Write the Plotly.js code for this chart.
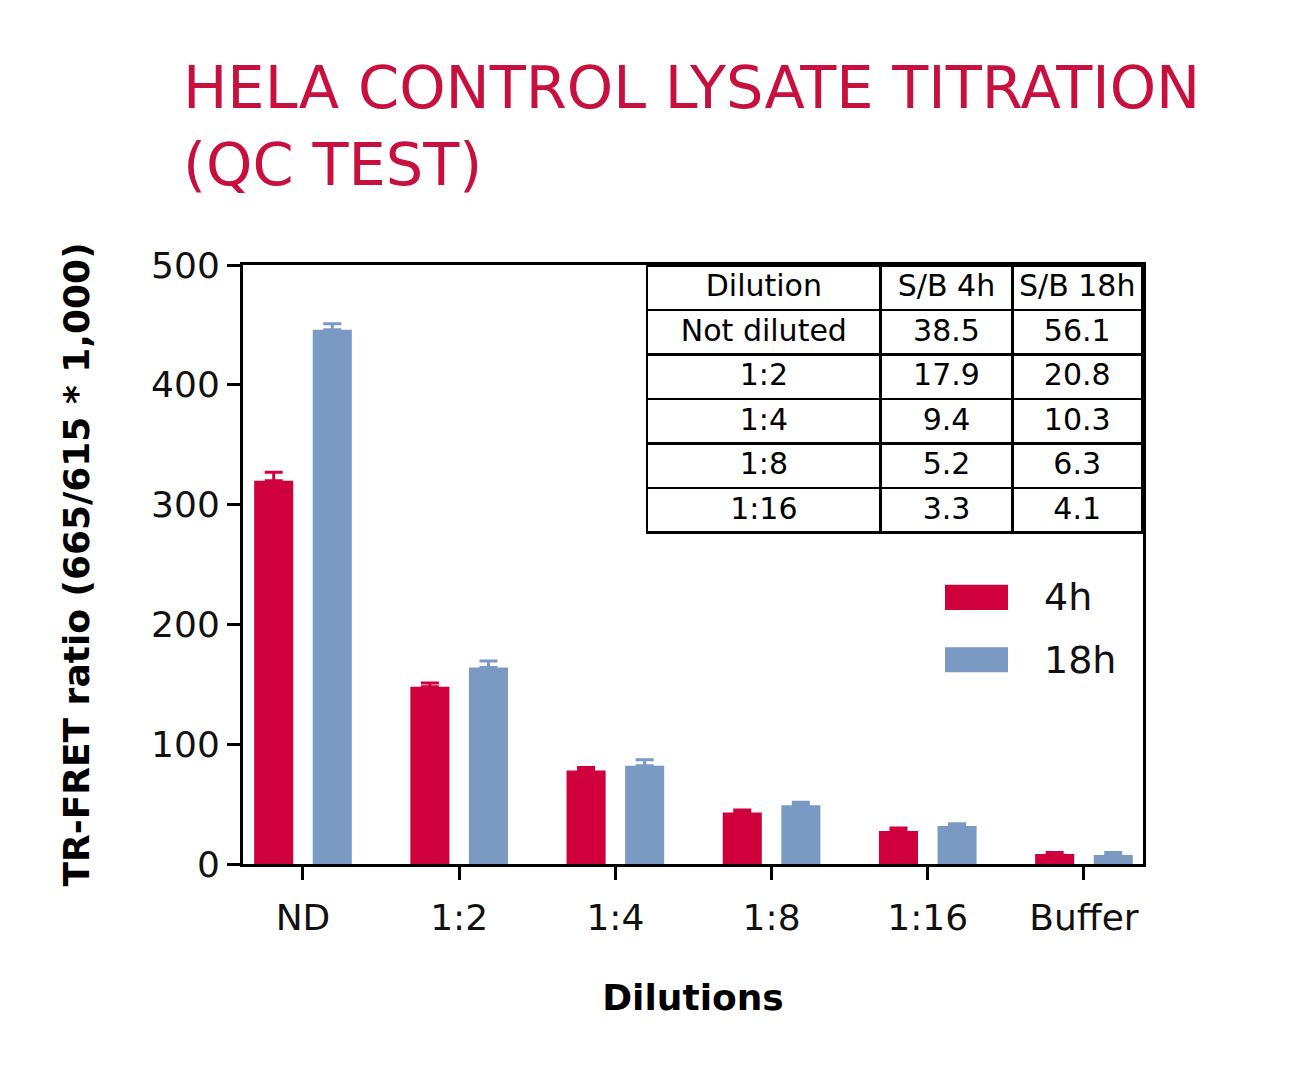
<!DOCTYPE html>
<html>
<head>
<meta charset="utf-8">
<script src="https://cdn.plot.ly/plotly-3.0.1.min.js"></script>
<style>html,body{margin:0;padding:0;background:#fff;}</style>
</head>
<body>
<div id="chart" style="width:1298px;height:1065px;"></div>
<script>
// ---- data ----
const categories = ['ND', '1:2', '1:4', '1:8', '1:16', 'Buffer'];
const seriesNames = ['4h', '18h'];
const values4h = [320, 148, 78, 43, 27.5, 8.3];
const errors4h = [7, 3, 2.5, 2, 2.5, 1.2];
const values18h = [446, 164, 82, 49, 31.7, 7.5];
const errors18h = [5, 5.5, 5, 2.5, 2, 2.2];
const tableHeader = ['Dilution', 'S/B 4h', 'S/B 18h'];
const tableDilution = ['Not diluted', '1:2', '1:4', '1:8', '1:16'];
const tableSB4h = ['38.5', '17.9', '9.4', '5.2', '3.3'];
const tableSB18h = ['56.1', '20.8', '10.3', '6.3', '4.1'];

const RED = '#CF003B';
const BLUE = '#7A9AC4';
const FONT = 'DejaVu Sans, sans-serif';
const nb = s => s.replace(/ /g, '\u00a0');

const traces = [
  {
    type: 'bar', name: seriesNames[0], x: categories, y: values4h,
    marker: {color: RED},
    error_y: {type: 'data', array: errors4h, arrayminus: errors4h.map(() => 0), symmetric: false,
              color: RED, thickness: 3, width: 9},
    showlegend: false
  },
  {
    type: 'bar', name: seriesNames[1], x: categories, y: values18h,
    marker: {color: BLUE},
    error_y: {type: 'data', array: errors18h, arrayminus: errors18h.map(() => 0), symmetric: false,
              color: BLUE, thickness: 3, width: 9},
    showlegend: false
  },
  {
    type: 'table',
    domain: {x: [0.449, 1.0], y: [0.54, 0.999]},
    columnwidth: [234, 132, 130],
    header: {
      values: tableHeader.map(nb),
      align: 'center',
      height: 44.5,
      line: {color: '#000', width: 2.5},
      fill: {color: '#fff'},
      font: {family: FONT, size: 30, color: '#000'}
    },
    cells: {
      values: [tableDilution.map(nb), tableSB4h, tableSB18h],
      align: 'center',
      height: 44.5,
      line: {color: '#000', width: 2.5},
      fill: {color: '#fff'},
      font: {family: FONT, size: 30, color: '#000'}
    }
  }
];

const legendY = [0.445, 0.341];
const legendColors = [RED, BLUE];
const shapes = [];
const annotations = [];
seriesNames.forEach((n, i) => {
  shapes.push({type: 'rect', xref: 'paper', yref: 'paper',
    x0: 0.78, x1: 0.85, y0: legendY[i] - 0.021, y1: legendY[i] + 0.021,
    fillcolor: legendColors[i], line: {width: 0}});
  annotations.push({xref: 'paper', yref: 'paper', x: 0.888, y: legendY[i],
    xanchor: 'left', yanchor: 'middle', text: n, showarrow: false,
    font: {family: FONT, size: 38, color: '#111'}});
});

const layout = {
  width: 1298, height: 1065,
  margin: {l: 243, r: 155, t: 265, b: 201},
  paper_bgcolor: '#fff', plot_bgcolor: '#fff',
  title: {
    text: 'HELA CONTROL LYSATE TITRATION<br>(QC TEST)',
    font: {family: FONT, size: 59, color: '#C8103E'},
    xref: 'container', x: 183 / 1298, xanchor: 'left',
    yref: 'container', y: 1 - 108 / 1065, yanchor: 'top'
  },
  barmode: 'group', bargap: 0.25, bargroupgap: 0.333,
  xaxis: {
    type: 'category', range: [-0.384, 5.378],
    showline: true, linecolor: '#000', linewidth: 3, mirror: true,
    ticks: 'outside', ticklen: 13, tickwidth: 3, tickcolor: '#000',
    tickfont: {family: FONT, size: 36, color: '#111'},
    ticklabelstandoff: 7,
    showgrid: false, zeroline: false,
    title: {text: 'Dilutions', standoff: 48, font: {family: FONT, size: 36, color: '#000', weight: 'bold'}}
  },
  yaxis: {
    range: [0, 500], tickvals: [0, 100, 200, 300, 400, 500],
    showline: true, linecolor: '#000', linewidth: 3, mirror: true,
    ticks: 'outside', ticklen: 13, tickwidth: 3, tickcolor: '#000',
    tickfont: {family: FONT, size: 36, color: '#111'},
    showgrid: false, zeroline: false,
    title: {text: 'TR-FRET ratio (665/615 * 1,000)', standoff: 51, font: {family: FONT, size: 36, color: '#000', weight: 'bold'}}
  },
  shapes: shapes,
  annotations: annotations
};

Plotly.newPlot('chart', traces, layout, {displayModeBar: false, staticPlot: true});
</script>
</body>
</html>
